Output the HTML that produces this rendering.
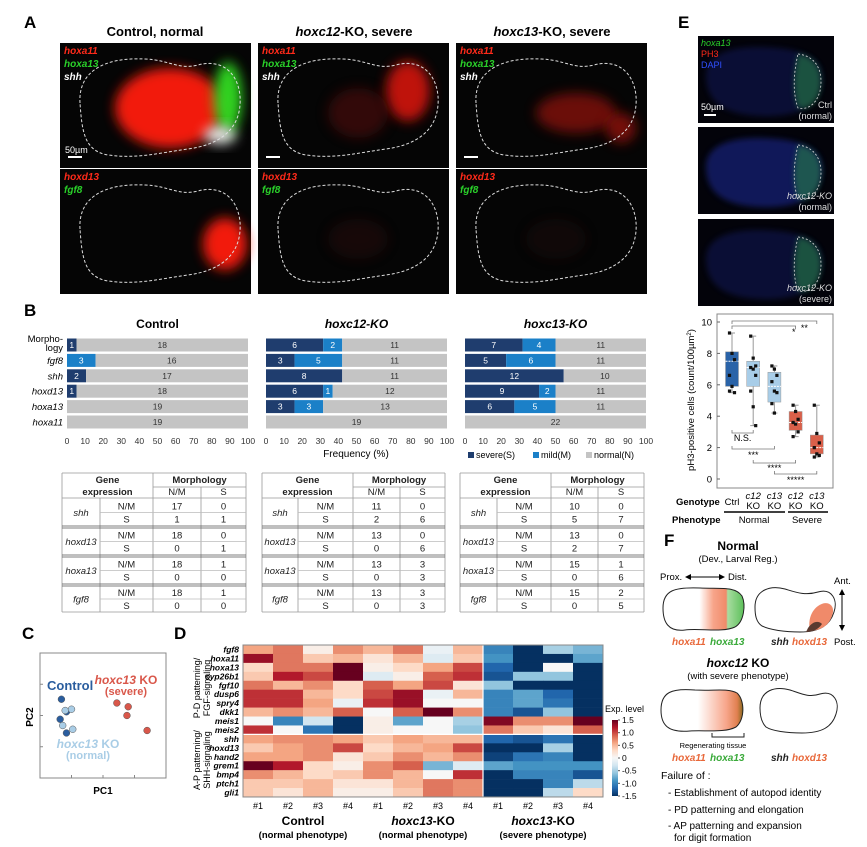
<!DOCTYPE html>
<html><head><meta charset="utf-8"><style>
html,body{margin:0;padding:0;background:#fff;}
svg{display:block;font-family:"Liberation Sans",Arial,sans-serif;}
.i{font-style:italic}
.b{font-weight:bold}
</style></head><body>
<svg id="fig" width="867" height="847" viewBox="0 0 867 847" xmlns="http://www.w3.org/2000/svg">
<defs>
<filter id="blur6" x="-50%" y="-50%" width="200%" height="200%"><feGaussianBlur stdDeviation="6"/></filter>
<filter id="blur3" x="-50%" y="-50%" width="200%" height="200%"><feGaussianBlur stdDeviation="3"/></filter>
<linearGradient id="cbar" x1="0" y1="1" x2="0" y2="0">
<stop offset="0" stop-color="#053061"/><stop offset="0.1" stop-color="#2166ac"/><stop offset="0.2" stop-color="#4393c3"/><stop offset="0.3" stop-color="#92c5de"/><stop offset="0.4" stop-color="#d1e5f0"/><stop offset="0.5" stop-color="#f7f7f7"/><stop offset="0.6" stop-color="#fddbc7"/><stop offset="0.7" stop-color="#f4a582"/><stop offset="0.8" stop-color="#d6604d"/><stop offset="0.9" stop-color="#b2182b"/><stop offset="1" stop-color="#67001f"/>
</linearGradient>
<linearGradient id="fgrad1" x1="0" x2="1"><stop offset="0.45" stop-color="#fff"/><stop offset="0.62" stop-color="#f7a58a"/><stop offset="0.78" stop-color="#f08a6a"/><stop offset="0.8" stop-color="#a8dca0"/><stop offset="1" stop-color="#5cc05a"/></linearGradient>
<linearGradient id="fgrad2" x1="0" x2="1"><stop offset="0.45" stop-color="#fff"/><stop offset="0.8" stop-color="#f7a58a"/><stop offset="0.93" stop-color="#e08050"/><stop offset="1" stop-color="#8a6a20"/></linearGradient>
<marker id="ah" markerWidth="6" markerHeight="6" refX="5" refY="3" orient="auto-start-reverse"><path d="M0,0 L6,3 L0,6Z" fill="#000"/></marker>
</defs>

<text x="24" y="28" font-size="17" class="b">A</text>
<text x="678" y="28" font-size="17" class="b">E</text>
<text x="24" y="316" font-size="17" class="b">B</text>
<text x="22" y="639" font-size="17" class="b">C</text>
<text x="174" y="639" font-size="17" class="b">D</text>
<text x="664" y="546" font-size="17" class="b">F</text>

<text x="155" y="36" font-size="13" class="b" text-anchor="middle">Control, normal</text>
<text x="354" y="36" font-size="13" class="b" text-anchor="middle"><tspan class="i">hoxc12</tspan>-KO, severe</text>
<text x="552" y="36" font-size="13" class="b" text-anchor="middle"><tspan class="i">hoxc13</tspan>-KO, severe</text>
<g id="panelA"></g>
<g id="panelE"></g>
<g id="panelB"></g>
<g id="tables"></g>
<g id="panelC"></g>
<g id="panelD"></g>
<g id="boxplot"></g>

<g font-size="10">
<text x="738" y="550" text-anchor="middle" font-size="12" class="b">Normal</text>
<text x="738" y="562" text-anchor="middle" font-size="9.5">(Dev., Larval Reg.)</text>
<text x="660" y="580" font-size="9.5">Prox.</text>
<line x1="686" y1="577" x2="724" y2="577" stroke="#000" marker-start="url(#ah)" marker-end="url(#ah)"/>
<text x="728" y="580" font-size="9.5">Dist.</text>
<text x="834" y="584" font-size="9.5">Ant.</text>
<line x1="842" y1="590" x2="842" y2="630" stroke="#000" marker-start="url(#ah)" marker-end="url(#ah)"/>
<text x="834" y="645" font-size="9.5">Post.</text>
<path d="M663,608 C663,590 675,587 700,588 C720,589 735,586 742,596 C746,605 744,622 735,627 C722,633 700,628 685,630 C668,632 663,622 663,608Z" fill="url(#fgrad1)" stroke="#222"/>
<path d="M755,607 C755,590 770,585 785,589 C795,592 805,596 818,592 C832,588 838,600 834,612 C830,625 820,632 800,632 C785,632 770,630 762,626 C756,622 755,615 755,607Z" fill="#fff" stroke="#222"/>
<path d="M818,606 C826,600 834,604 833,612 C831,622 825,630 810,631 C808,622 810,612 818,606Z" fill="#f08a6a"/>
<path d="M808,628 C812,622 818,620 822,624 C818,630 812,632 806,632Z" fill="#5a3a30"/>
<text x="672" y="645" font-size="10" class="b i" fill="#e8683a">hoxa11</text>
<text x="710" y="645" font-size="10" class="b i" fill="#3aaa3a">hoxa13</text>
<text x="771" y="645" font-size="10" class="b i" fill="#222">shh</text>
<text x="792" y="645" font-size="10" class="b i" fill="#e8683a">hoxd13</text>
<text x="738" y="667" text-anchor="middle" font-size="12" class="b"><tspan class="i">hoxc12</tspan> KO</text>
<text x="738" y="679" text-anchor="middle" font-size="9.5">(with severe phenotype)</text>
<path d="M661,710 C661,692 672,688 695,690 C715,691 728,688 737,693 C745,700 745,720 736,727 C725,733 705,730 690,731 C668,733 661,725 661,710Z" fill="url(#fgrad2)" stroke="#222"/>
<path d="M760,708 C760,690 775,686 790,690 C800,693 808,698 820,694 C834,690 840,702 836,714 C832,727 822,733 802,733 C787,733 772,731 766,727 C761,722 760,715 760,708Z" fill="#fff" stroke="#222"/>
<path d="M712,733 L712,737 L744,737 L744,733" fill="none" stroke="#222"/>
<text x="713" y="748" text-anchor="middle" font-size="7.5">Regenerating tissue</text>
<text x="672" y="761" font-size="10" class="b i" fill="#e8683a">hoxa11</text>
<text x="710" y="761" font-size="10" class="b i" fill="#3aaa3a">hoxa13</text>
<text x="771" y="761" font-size="10" class="b i" fill="#222">shh</text>
<text x="792" y="761" font-size="10" class="b i" fill="#e8683a">hoxd13</text>
<text x="661" y="779" font-size="10.5">Failure of :</text>
<text x="668" y="796" font-size="10">- Establishment of autopod identity</text>
<text x="668" y="813" font-size="10">- PD patterning and elongation</text>
<text x="668" y="829" font-size="10">- AP patterning and expansion</text>
<text x="674" y="841" font-size="10">for digit formation</text>
</g>
</svg>
<script>
const NS='http://www.w3.org/2000/svg';
function mk(parent, tag, attrs, text){const e=document.createElementNS(NS,tag);for(const k in attrs)e.setAttribute(k,attrs[k]);if(text!=null)e.textContent=text;parent.appendChild(e);return e;}

/* ---------- Panel B data ---------- */
const bGenes=['Morphology','fgf8','shh','hoxd13','hoxa13','hoxa11'];
const bGroups=['Control','hoxc12-KO','hoxc13-KO'];
const bSevere=[[1,0,2,1,0,0],[6,3,8,6,3,0],[7,5,12,9,6,0]];
const bMild=[[0,3,0,0,0,0],[2,5,0,1,3,0],[4,6,0,2,5,0]];
const bNormal=[[18,16,17,18,19,19],[11,11,11,12,13,19],[11,11,10,11,11,22]];
const bTicks=[0,10,20,30,40,50,60,70,80,90,100];

/* ---------- Panel D data ---------- */
const dGenes=['fgf8','hoxa11','hoxa13','cyp26b1','fgf10','dusp6','spry4','dkk1','meis1','meis2','shh','hoxd13','hand2','grem1','bmp4','ptch1','gli1'];
const dSamples=['#1','#2','#3','#4','#1','#2','#3','#4','#1','#2','#3','#4'];
const dValues=[
[0.6,0.8,0.1,0.7,0.5,0.8,-0.1,0.5,-1.0,-1.5,-0.5,-0.7],
[1.3,0.8,0.4,0.5,0.2,0.5,-0.2,0.4,-0.9,-1.5,-1.5,-0.8],
[0.3,0.8,0.8,1.5,0.1,0.3,0.6,1.0,-1.2,-1.5,0.0,-1.5],
[0.4,1.2,1.0,1.5,-0.2,0.1,0.9,1.1,-1.3,-0.6,-0.6,-1.5],
[0.8,0.5,0.7,0.3,0.9,0.6,1.0,0.2,-0.6,-1.5,-1.5,-1.5],
[1.1,1.1,0.5,0.3,1.0,1.3,-0.1,0.5,-1.0,-0.8,-1.2,-1.5],
[1.1,1.1,0.6,-0.1,1.1,1.3,0.0,0.0,-1.0,-0.8,-1.1,-1.5],
[0.5,0.7,0.5,0.9,0.0,0.9,1.5,0.7,-1.0,-1.3,-0.6,-1.5],
[0.0,-1.0,-0.3,-1.5,0.1,-0.8,0.0,-0.5,1.4,0.7,0.7,1.5],
[1.1,0.0,-1.1,-1.5,0.1,0.0,0.0,-0.6,0.8,0.4,0.2,0.9],
[0.6,0.7,0.7,0.6,0.4,0.6,0.5,0.5,-1.2,-1.3,-1.1,-1.5],
[0.4,0.6,0.7,1.0,0.3,0.5,0.6,1.0,-1.5,-1.5,-0.5,-1.5],
[0.6,0.6,0.7,0.2,0.4,0.7,0.5,0.7,-1.4,-1.1,-1.0,-1.5],
[1.5,1.2,0.3,0.1,0.7,0.9,-0.7,-0.2,-0.8,-0.9,-0.9,-0.9],
[0.7,0.5,0.3,0.4,0.7,0.5,0.0,1.1,-1.5,-1.0,-1.0,-1.3],
[0.4,0.4,0.5,0.2,0.2,0.5,0.8,0.7,-1.5,-1.5,-1.0,-0.4],
[0.4,0.2,0.5,0.1,0.1,0.4,0.8,0.7,-1.5,-1.5,-0.4,0.3]];
const dScaleTicks=[1.5,1.0,0.5,0,-0.5,-1.0,-1.5];

/* ---------- Panel C data ---------- */
const pcaControlX=[0.17,0.21,0.16,0.21], pcaControlY=[0.63,0.53,0.47,0.36];
const pcaKoNormalX=[0.20,0.25,0.18,0.26], pcaKoNormalY=[0.54,0.55,0.42,0.39];
const pcaKoSevereX=[0.61,0.70,0.69,0.85], pcaKoSevereY=[0.60,0.57,0.50,0.38];

/* ---------- Panel E boxplot data ---------- */
const eCats=['Ctrl','c12 KO normal','c13 KO normal','c12 KO severe','c13 KO severe'];
const eQ1=[5.9,5.9,4.9,3.1,1.6];
const eMed=[7.5,7.1,5.9,3.6,2.0];
const eQ3=[8.1,7.5,6.8,4.3,2.8];
const eMin=[5.5,3.4,4.2,2.7,1.4];
const eMax=[9.3,9.1,7.2,4.7,4.7];
const ePoints=[[9.3,8.0,7.6,6.6,5.9,5.5,5.6],[9.1,7.7,7.2,7.1,7.0,6.6,5.6,4.6,3.4],[7.2,7.0,6.6,6.2,5.6,5.5,4.8,4.2],[4.7,4.3,3.8,3.6,3.5,3.0,2.7],[4.7,2.9,2.3,2.0,1.6,1.5,1.4]];
const eYTicks=[0,2,4,6,8,10];

/* ================= Panel A ================= */
const A=document.getElementById('panelA');
const blob="M20,60 C18,28 45,14 85,16 C110,17 118,27 138,22 C168,14 182,38 180,62 C178,88 158,102 128,106 C98,110 78,116 48,112 C24,108 22,88 20,60Z";
const aCols=[60,258,456], aRows=[43,169], aW=191, aH=125;
const aGlows=[
 [[[110,65,55,40,'#ff1a10',0.95],[168,55,14,36,'#33dd22',0.95],[160,92,16,9,'#ffffff',0.9]],[[165,75,22,26,'#ff1a10',0.95]]],
 [[[150,48,22,30,'#e01810',0.85],[100,70,30,25,'#601008',0.5]],[[100,70,30,20,'#301008',0.4]]],
 [[[120,70,40,20,'#c01810',0.55],[165,85,15,15,'#c01810',0.6]],[[100,70,30,20,'#201008',0.4]]]];
const aLabels=[[['hoxa11','#ff2a1a'],['hoxa13','#2ad02a'],['shh','#ffffff']],[['hoxd13','#ff2a1a'],['fgf8','#2ad02a']]];
for(let c=0;c<3;c++)for(let r=0;r<2;r++){
 const g=mk(A,'g',{transform:`translate(${aCols[c]},${aRows[r]})`});
 
 
 mk(g,'rect',{x:0,y:0,width:aW,height:aH,fill:'#050505'});
 aGlows[c][r].forEach(q=>mk(g,'ellipse',{cx:q[0],cy:q[1],rx:q[2],ry:q[3],fill:q[4],opacity:q[5],filter:'url(#blur6)'}));
 mk(g,'path',{d:blob,fill:'none',stroke:'#ddd','stroke-dasharray':'3,2','stroke-width':1});
 aLabels[r].forEach((l,i)=>mk(g,'text',{x:4,y:11+i*13,'font-size':10,'font-style':'italic','font-weight':'bold',fill:l[1]},l[0]));
 if(r===0){mk(g,'rect',{x:8,y:113,width:14,height:2,fill:'#fff'}); if(c===0) mk(g,'text',{x:5,y:110,'font-size':9,fill:'#fff'},'50µm');}
}
/* ================= Panel E images ================= */
const E=document.getElementById('panelE');
const eImgY=[36,127,219], eImgLab=[['Ctrl','(normal)'],['hoxc12-KO','(normal)'],['hoxc12-KO','(severe)']];
for(let i=0;i<3;i++){
 const g=mk(E,'g',{transform:`translate(698,${eImgY[i]})`});
 
 
 mk(g,'rect',{x:0,y:0,width:136,height:87,fill:'#03030a'});
 mk(g,'path',{d:"M8,40 C8,15 40,8 80,12 C110,15 126,25 124,45 C122,70 100,82 60,80 C25,78 8,65 8,40Z",fill:'#1a2a9a',opacity:i===1?0.55:0.3,filter:'url(#blur3)'});
 mk(g,'path',{d:"M100,18 C118,20 126,35 122,55 C118,70 108,74 100,72 C94,55 96,35 100,18Z",fill:'#2a8a4a',opacity:0.55,filter:'url(#blur3)'});
 mk(g,'path',{d:"M100,18 C118,20 126,35 122,55 C118,70 108,74 100,72 C94,55 96,35 100,18Z",fill:'none',stroke:'#ddd','stroke-dasharray':'2,2','stroke-width':0.8});
 mk(g,'text',{x:134,y:72,'font-size':9,fill:'#ddd','text-anchor':'end','font-style':i?'italic':'normal'},eImgLab[i][0]);
 mk(g,'text',{x:134,y:83,'font-size':9,fill:'#ddd','text-anchor':'end'},eImgLab[i][1]);
 if(i===0){
  mk(g,'text',{x:3,y:10,'font-size':9,fill:'#2ad02a','font-style':'italic'},'hoxa13');
  mk(g,'text',{x:3,y:21,'font-size':9,fill:'#ff2a1a'},'PH3');
  mk(g,'text',{x:3,y:32,'font-size':9,fill:'#3050ff'},'DAPI');
  mk(g,'text',{x:3,y:74,'font-size':9,fill:'#fff'},'50µm');
  mk(g,'rect',{x:6,y:78,width:12,height:2,fill:'#fff'});
 }
}

/* ================= Panel B ================= */
const B=document.getElementById('panelB');
const bX0=[67,266,465], bW=181, bRowY0=345, bRowStep=15.4, bH=13;
const colS='#1f3d6e', colM='#1b80c8', colN='#c4c4c4';
function bx(p,v){return bX0[p]+v/100*bW;}
bGenes.forEach((gname,i)=>{
 const y=bRowY0+i*bRowStep;
 if(i===0){
  const t=mk(B,'text',{x:63,y:y-3,'font-size':9.5,'text-anchor':'end'},'Morpho-');
  
  
  mk(B,'text',{x:63,y:y+6,'font-size':9.5,'text-anchor':'end'},'logy');
 } else {
  const t=mk(B,'text',{x:63,y:y+3.5,'font-size':9.5,'text-anchor':'end','font-style':'italic'},gname);
  
  
 }
});
for(let p=0;p<3;p++){
 const title=mk(B,'text',{x:bX0[p]+bW/2,y:328,'font-size':12,'font-weight':'bold','text-anchor':'middle','font-style':p?'italic':'normal'},bGroups[p]);
 
 
 for(let i=0;i<bGenes.length;i++){
  const tot=bSevere[p][i]+bMild[p][i]+bNormal[p][i];
  const segs=[[bSevere[p][i],colS,'#fff','severe'],[bMild[p][i],colM,'#fff','mild'],[bNormal[p][i],colN,'#333','normal']];
  let acc=0; const y=bRowY0+i*bRowStep-bH/2;
  segs.forEach(s=>{
   if(s[0]<=0)return;
   const v0=acc/tot*100, v1=(acc+s[0])/tot*100; acc+=s[0];
   const r=mk(B,'rect',{x:bx(p,v0),y:y,width:bx(p,v1)-bx(p,v0),height:bH,fill:s[1]});
   
   
   mk(B,'text',{x:(bx(p,v0)+bx(p,v1))/2,y:y+9.5,'font-size':8.5,'text-anchor':'middle',fill:s[2]},String(s[0]));
  });
 }
 bTicks.forEach(t=>{
  const tk=mk(B,'text',{x:bx(p,t),y:444,'font-size':8.5,'text-anchor':'middle',fill:'#333'},String(t));
  
  
 });
}
const fx=mk(B,'text',{x:356,y:457,'font-size':10,'text-anchor':'middle'},'Frequency (%)');


[[468,colS,'severe(S)'],[533,colM,'mild(M)'],[586,colN,'normal(N)']].forEach(l=>{
 const g=mk(B,'g',{});
 
 
 mk(g,'rect',{x:l[0],y:452,width:6,height:6,fill:l[1]});
 mk(g,'text',{x:l[0]+8,y:458,'font-size':9},l[2]);
});

/* ================= Tables ================= */
const T=document.getElementById('tables');
const tCols=[[62,100,153,201,246],[262,298,353,400,445],[460,497,551,598,644]];
const tGenes=['shh','hoxd13','hoxa13','fgf8'];
const tVals=[
 [[[17,0],[1,1]],[[18,0],[0,1]],[[18,1],[0,0]],[[18,1],[0,0]]],
 [[[11,0],[2,6]],[[13,0],[0,6]],[[13,3],[0,3]],[[13,3],[0,3]]],
 [[[10,0],[5,7]],[[13,0],[2,7]],[[15,1],[0,6]],[[15,2],[0,5]]]];
const gTop=[499,528,557,586], gBot=[526,555,584,612];
for(let t=0;t<3;t++){
 const c=tCols[t]; const g=mk(T,'g',{stroke:'#999','stroke-width':0.8});
 
 
 const L=(x1,y1,x2,y2,col)=>mk(g,'line',{x1,y1,x2,y2,stroke:col||'#999'});
 L(c[0],473,c[4],473); L(c[0],473,c[0],612); L(c[4],473,c[4],612); L(c[2],473,c[2],612);
 L(c[2],487,c[4],487); L(c[3],487,c[3],612); L(c[0],498,c[4],498); L(c[0],612,c[4],612);
 L(c[1],498,c[1],612);
 for(let k=0;k<3;k++){L(c[0],gBot[k],c[4],gBot[k],'#555');L(c[0],gBot[k]+2,c[4],gBot[k]+2,'#555');}
 const tx=mk(T,'g',{'font-size':9.5,'text-anchor':'middle',fill:'#222'});
 mk(tx,'text',{x:(c[0]+c[2])/2,y:483,'font-weight':'bold'},'Gene');
 mk(tx,'text',{x:(c[0]+c[2])/2,y:495,'font-weight':'bold'},'expression');
 mk(tx,'text',{x:(c[2]+c[4])/2,y:483,'font-weight':'bold'},'Morphology');
 mk(tx,'text',{x:(c[2]+c[3])/2,y:495},'N/M');
 mk(tx,'text',{x:(c[3]+c[4])/2,y:495},'S');
 for(let k=0;k<4;k++){
  const mid=(gTop[k]+gBot[k])/2;
  L(c[1],mid,c[4],mid,'#bbb');
  mk(tx,'text',{x:(c[0]+c[1])/2,y:mid+3.5,'font-style':'italic'},tGenes[k]);
  mk(tx,'text',{x:(c[1]+c[2])/2,y:mid-3},'N/M');
  mk(tx,'text',{x:(c[1]+c[2])/2,y:mid+10},'S');
  for(let r=0;r<2;r++)for(let q=0;q<2;q++){
   const v=mk(tx,'text',{x:(c[2+q]+c[3+q])/2,y:r?mid+10:mid-3},String(tVals[t][k][r][q]));
   
   
  }
 }
}

/* ================= Panel C ================= */
const C=document.getElementById('panelC');
const cx0=40,cx1=166,cy0=778,cy1=653;
function pcx(v){return cx0+v*(cx1-cx0);} function pcy(v){return cy0-v*(cy0-cy1);}
const cAx=mk(C,'rect',{x:cx0,y:cy1,width:cx1-cx0,height:cy0-cy1,fill:'none',stroke:'#888'});


[0.25,0.5,0.75].forEach(f=>{
 mk(C,'line',{x1:cx0,y1:pcy(f),x2:cx0+3,y2:pcy(f),stroke:'#888'});
 mk(C,'line',{x1:pcx(f),y1:cy0,x2:pcx(f),y2:cy0-3,stroke:'#888'});
});
[[pcaControlX,pcaControlY,'#2a5d9e','control'],[pcaKoNormalX,pcaKoNormalY,'#a9cde6','ko-normal'],[pcaKoSevereX,pcaKoSevereY,'#d9574a','ko-severe']].forEach(s=>{
 s[0].forEach((x,i)=>{
  const p=mk(C,'circle',{cx:pcx(x),cy:pcy(s[1][i]),r:3.4,fill:s[2],stroke:'#555','stroke-width':0.5});
  
  
 });
});
mk(C,'text',{x:47,y:690,'font-size':13,'font-weight':'bold',fill:'#2a5d9e'},'Control');
mk(C,'text',{x:126,y:684,'font-size':12,'font-weight':'bold',fill:'#d9574a','text-anchor':'middle'}).innerHTML='<tspan font-style="italic">hoxc13</tspan> KO';
mk(C,'text',{x:126,y:695,'font-size':11,'font-weight':'bold',fill:'#d9574a','text-anchor':'middle'},'(severe)');
mk(C,'text',{x:88,y:748,'font-size':12,'font-weight':'bold',fill:'#a9cde6','text-anchor':'middle'}).innerHTML='<tspan font-style="italic">hoxc13</tspan> KO';
mk(C,'text',{x:88,y:759,'font-size':11,'font-weight':'bold',fill:'#a9cde6','text-anchor':'middle'},'(normal)');
const pc2=mk(C,'text',{x:33,y:717,'font-size':10,'font-weight':'bold','text-anchor':'middle',transform:'rotate(-90 33 717)'},'PC2');


const pc1=mk(C,'text',{x:103,y:794,'font-size':10,'font-weight':'bold','text-anchor':'middle'},'PC1');



/* ================= Panel D ================= */
const D=document.getElementById('panelD');
const hx0=243, hy0=645, cw=30, ch=8.94;
const stops=['#053061','#2166ac','#4393c3','#92c5de','#d1e5f0','#f7f7f7','#fddbc7','#f4a582','#d6604d','#b2182b','#67001f'];
function hex(h){return [1,3,5].map(i=>parseInt(h.substr(i,2),16));}
function cmap(v){let t=(Math.max(-1.5,Math.min(1.5,v))+1.5)/3*10;let i=Math.min(9,Math.floor(t));const f=t-i;const a=hex(stops[i]),b=hex(stops[i+1]);return 'rgb('+a.map((x,k)=>Math.round(x+(b[k]-x)*f)).join(',')+')';}
function hX(j){return hx0+j*cw;} function hY(i){return hy0+i*ch;}
dValues.forEach((row,i)=>{
 row.forEach((v,j)=>{
  const r=mk(D,'rect',{x:hX(j),y:hY(i),width:cw+0.3,height:ch+0.3,fill:cmap(v)});
  
  
 });
 const l=mk(D,'text',{x:239,y:hY(i)+7.5,'font-size':8.5,'font-weight':'bold','font-style':'italic','text-anchor':'end'},dGenes[i]);
 
 
});
mk(D,'line',{x1:hX(8),y1:hy0,x2:hX(8),y2:hY(17),stroke:'#fff','stroke-width':1.2});
mk(D,'line',{x1:hx0,y1:hY(10),x2:hX(12),y2:hY(10),stroke:'#fff','stroke-width':1.2});
mk(D,'rect',{x:hx0,y:hy0,width:cw*12,height:ch*17,fill:'none',stroke:'#888'});
dSamples.forEach((s,j)=>{
 const t=mk(D,'text',{x:hX(j)+cw/2,y:809,'font-size':9,'text-anchor':'middle'},s);
 
 
});
[['Control','','(normal phenotype)'],['hoxc13','-KO','(normal phenotype)'],['hoxc13','-KO','(severe phenotype)']].forEach((g,k)=>{
 const xc=hX(k*4)+cw*2;
 const t=mk(D,'text',{x:xc,y:825,'font-size':12,'font-weight':'bold','text-anchor':'middle'});
 t.innerHTML=k?'<tspan font-style="italic">'+g[0]+'</tspan>'+g[1]:g[0];
 
 
 mk(D,'text',{x:xc,y:838,'font-size':9.5,'font-weight':'bold','text-anchor':'middle'},g[2]);
});
mk(D,'text',{x:200,y:688,'font-size':9,'text-anchor':'middle',transform:'rotate(-90 200 688)'},'P-D patterning/');
mk(D,'text',{x:210,y:688,'font-size':9,'text-anchor':'middle',transform:'rotate(-90 210 688)'},'FGF-signaling');
mk(D,'text',{x:200,y:760,'font-size':9,'text-anchor':'middle',transform:'rotate(-90 200 760)'},'A-P patterning/');
mk(D,'text',{x:210,y:760,'font-size':9,'text-anchor':'middle',transform:'rotate(-90 210 760)'},'SHH-signaling');
const cb=mk(D,'rect',{x:612,y:720,width:6,height:76,fill:'url(#cbar)'});


mk(D,'text',{x:605,y:712,'font-size':9},'Exp. level');
dScaleTicks.forEach(v=>{
 const y=720+(1.5-v)/3*76;
 mk(D,'line',{x1:618,y1:y,x2:620,y2:y,stroke:'#555'});
 const t=mk(D,'text',{x:622,y:y+3,'font-size':8.5},v===0?'0':v.toFixed(1));
 
 
});

/* ================= Panel E boxplot ================= */
const P=document.getElementById('boxplot');
const ex0=717, ex1=833, ey0=479, eyTop=322;
function ey(v){return ey0-v*(ey0-eyTop)/10;}
function ex(i){return 732+i*21.2;}
const eFill=['#2a63a8','#a8cde8','#a8cde8','#d9604a','#d9604a'];
const fr=mk(P,'rect',{x:ex0,y:314,width:ex1-ex0,height:174,fill:'none',stroke:'#888'});


eYTicks.forEach(v=>{
 mk(P,'line',{x1:ex0,y1:ey(v),x2:ex0+3,y2:ey(v),stroke:'#666'});
 const t=mk(P,'text',{x:712,y:ey(v)+3.5,'font-size':9.5,'text-anchor':'end'},String(v));
 
 
});
const yt=mk(P,'text',{x:694,y:400,'font-size':9.5,'text-anchor':'middle',transform:'rotate(-90 694 400)'});
yt.innerHTML='pH3-positive cells (count/100µm<tspan baseline-shift="super" font-size="6">2</tspan>)';


eCats.forEach((c,i)=>{
 const x=ex(i);
 mk(P,'line',{x1:x,y1:ey(eMin[i]),x2:x,y2:ey(eMax[i]),stroke:'#999'});
 mk(P,'line',{x1:x-3,y1:ey(eMin[i]),x2:x+3,y2:ey(eMin[i]),stroke:'#999'});
 mk(P,'line',{x1:x-3,y1:ey(eMax[i]),x2:x+3,y2:ey(eMax[i]),stroke:'#999'});
 const b=mk(P,'rect',{x:x-6.5,y:ey(eQ3[i]),width:13,height:ey(eQ1[i])-ey(eQ3[i]),fill:eFill[i],stroke:'#999','stroke-width':0.5});
 
 
 mk(P,'line',{x1:x-6.5,y1:ey(eMed[i]),x2:x+6.5,y2:ey(eMed[i]),stroke:'#fff','stroke-dasharray':'2,1'});
 ePoints[i].forEach((v,k)=>{
  const p=mk(P,'rect',{x:x-1.6+((k%3)-1)*2.5,y:ey(v)-1.6,width:3.2,height:3.2,fill:'#111'});
  
  
 });
});
function brk(i,j,y,down,label,ly){
 const s=down?-3:3;
 mk(P,'path',{d:`M${ex(i)},${y+s} L${ex(i)},${y} L${ex(j)},${y} L${ex(j)},${y+s}`,fill:'none',stroke:'#777','stroke-width':0.8});
 const t=mk(P,'text',{x:(ex(i)+ex(j))/2+(label.length<3?ex(j)-ex(i)>60?30:20:0),y:ly,'font-size':9,'text-anchor':'middle'},label);
 
 
}
brk(0,4,321,false,'**',331); brk(0,3,326,false,'*',335);
brk(0,1,433,true,'N.S.',441); brk(0,2,449,true,'***',458);
brk(1,3,463,true,'****',471); brk(2,4,474,true,'*****',483);
mk(P,'text',{x:676,y:505,'font-size':9.5,'font-weight':'bold'},'Genotype');
mk(P,'text',{x:732,y:505,'font-size':9.5,'text-anchor':'middle'},'Ctrl');
[1,2,3,4].forEach(i=>{
 mk(P,'text',{x:ex(i),y:499,'font-size':9.5,'text-anchor':'middle','font-style':'italic'},i%2?'c12':'c13');
 mk(P,'text',{x:ex(i),y:509,'font-size':9.5,'text-anchor':'middle'},'KO');
});
mk(P,'line',{x1:724,y1:512,x2:785,y2:512,stroke:'#000','stroke-width':1.5});
mk(P,'line',{x1:788,y1:512,x2:828,y2:512,stroke:'#000','stroke-width':1.5});
mk(P,'text',{x:672,y:523,'font-size':9.5,'font-weight':'bold'},'Phenotype');
mk(P,'text',{x:754,y:523,'font-size':9.5,'text-anchor':'middle'},'Normal');
mk(P,'text',{x:807,y:523,'font-size':9.5,'text-anchor':'middle'},'Severe');
</script>
</body></html>
